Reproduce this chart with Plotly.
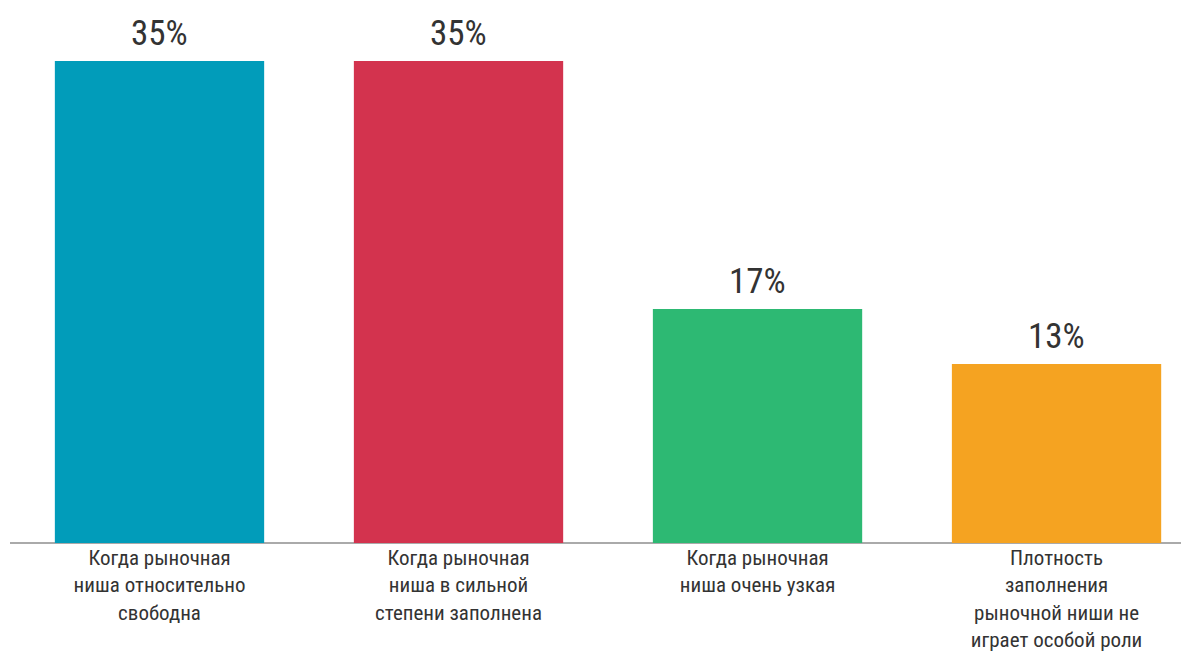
import plotly.graph_objects as go

categories = [
    "Когда рыночная<br>ниша относительно<br>свободна",
    "Когда рыночная<br>ниша в сильной<br>степени заполнена",
    "Когда рыночная<br>ниша очень узкая",
    "Плотность<br>заполнения<br>рыночной ниши не<br>играет особой роли",
]
values = [35, 35, 17, 13]
value_labels = ["35%", "35%", "17%", "13%"]
colors = ["#019CBA", "#D3334E", "#2DB973", "#F5A321"]

FONT = "Liberation Sans Narrow, Roboto Condensed, Liberation Sans, sans-serif"

fig = go.Figure(
    go.Bar(
        x=list(range(len(categories))),
        y=values,
        marker=dict(color=colors, line=dict(width=0)),
        width=0.7,
        hoverinfo="skip",
    )
)

for i, (v, t) in enumerate(zip(values, value_labels)):
    fig.add_annotation(
        x=i, y=v, text=t, showarrow=False, yanchor="bottom", yshift=5,
        font=dict(family=FONT, size=35, color="#333333"),
    )

fig.update_layout(
    width=1181, height=652,
    margin=dict(l=2, r=0, t=0, b=117, autoexpand=False),
    paper_bgcolor="white", plot_bgcolor="white",
    showlegend=False,
    font=dict(family=FONT, size=21, color="#333333"),
    xaxis=dict(
        range=[-0.5, 3.443],
        automargin=False,
        tickmode="array",
        tickvals=list(range(len(categories))),
        ticktext=categories,
        showgrid=False, zeroline=False,
        showline=False,
        ticks="",
        tickfont=dict(family=FONT, size=21, color="#333333"),
        fixedrange=True,
    ),
    yaxis=dict(
        range=[0, 38.85],
        automargin=False,
        showgrid=False, zeroline=True, zerolinecolor="#AAAAAA", zerolinewidth=2,
        showticklabels=False, ticks="", showline=False,
        fixedrange=True,
    ),
)

fig.write_html("out.html")
